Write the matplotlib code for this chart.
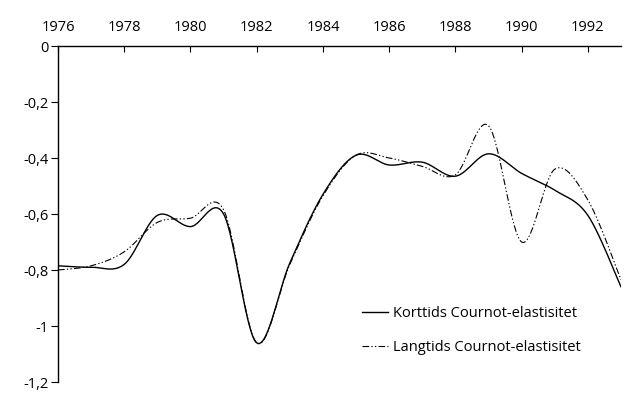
import numpy as np
import matplotlib.pyplot as plt

# Data
years = list(range(1976, 1994))
korttids = [-0.785, -0.79, -0.78, -0.605, -0.645, -0.60, -1.06, -0.775, -0.53,
            -0.39, -0.425, -0.415, -0.465, -0.385, -0.455, -0.515, -0.605, -0.86]
langtids = [-0.80, -0.785, -0.735, -0.63, -0.615, -0.585, -1.06, -0.78, -0.535,
            -0.39, -0.40, -0.43, -0.46, -0.285, -0.70, -0.44, -0.55, -0.835]
xticks = list(range(1976, 1993, 2))
yticks = [0, -0.2, -0.4, -0.6, -0.8, -1.0, -1.2]
ylabels = ['0', '-0,2', '-0,4', '-0,6', '-0,8', '-1', '-1,2']


def smooth(x, y, n=30):
    # Excel-style smoothed line (Catmull-Rom through the points)
    x = np.asarray(x, float)
    y = np.asarray(y, float)
    px = np.concatenate([[x[0]], x, [x[-1]]])
    py = np.concatenate([[y[0]], y, [y[-1]]])
    xs, ys = [], []
    t = np.linspace(0, 1, n, endpoint=False)
    for i in range(1, len(px) - 2):
        p0, p1, p2, p3 = (np.array([px[j], py[j]]) for j in range(i - 1, i + 3))
        c1 = p1 + (p2 - p0) / 6
        c2 = p2 - (p3 - p1) / 6
        b = (((1 - t) ** 3)[:, None] * p1 + (3 * (1 - t) ** 2 * t)[:, None] * c1
             + (3 * (1 - t) * t ** 2)[:, None] * c2 + (t ** 3)[:, None] * p2)
        xs.extend(b[:, 0])
        ys.extend(b[:, 1])
    xs.append(x[-1])
    ys.append(y[-1])
    return xs, ys


plt.rcParams['font.family'] = ['Open Sans', 'DejaVu Sans']
fig = plt.figure(figsize=(6.39, 4.08), dpi=100)
ax = fig.add_axes([58 / 639, 1 - 382 / 408, (621 - 58) / 639, (382 - 46) / 408])

sx, sy = smooth(years, korttids)
ax.plot(sx, sy, color='black', linewidth=1.0, label='Korttids Cournot-elastisitet')
lx, ly = smooth(years, langtids)
ax.plot(lx, ly, color='black', linewidth=0.8, dashes=(6, 2, 1.2, 2, 1.2, 2),
        label='Langtids Cournot-elastisitet')

ax.set_xlim(1976, 1993)
ax.set_ylim(-1.2, 0)
ax.xaxis.tick_top()
ax.set_xticks(xticks)
ax.set_xticklabels([str(v) for v in xticks])
ax.set_yticks(yticks)
ax.set_yticklabels(ylabels)
ax.tick_params(axis='x', direction='in', length=4, pad=8, labelsize=10.5)
ax.tick_params(axis='y', direction='out', length=5, pad=2, labelsize=10.5)
for s in ['right', 'bottom']:
    ax.spines[s].set_visible(False)
for s in ['left', 'top']:
    ax.spines[s].set_linewidth(1.0)

ax.legend(loc='upper left', bbox_to_anchor=(0.522, 0.256), frameon=False,
          fontsize=10.5, handlelength=1.75, handletextpad=0.4, labelspacing=1.3,
          borderaxespad=0.3)

fig.savefig('out.png', dpi=100)
